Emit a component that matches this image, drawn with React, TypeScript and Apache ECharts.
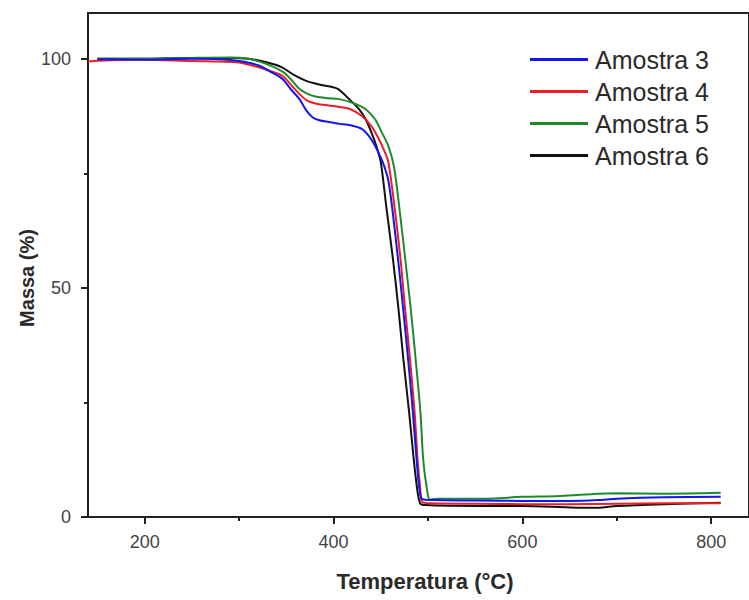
import React, { useEffect, useRef } from "react";
import * as echarts from "echarts";

const seriesNames = ["Amostra 3", "Amostra 4", "Amostra 5", "Amostra 6"];
const seriesColors = ["#1515f0", "#ee1c24", "#1f8a2a", "#111111"];

const amostra3: [number, number][] = [
  [150, 99.9], [200, 99.8], [250, 100], [280, 99.9], [300, 99.5], [320, 98.6], [335, 97], [346, 95.6],
  [355, 93.3], [364, 91.2], [371, 88.8], [378, 87.2], [385, 86.6], [395, 86.2], [406, 85.8], [418, 85.5],
  [430, 84.7], [438, 83], [444, 81], [452, 77.5], [458, 73.5], [463, 66], [469, 55], [474, 45],
  [479, 34.4], [484, 23], [488, 12.5], [491, 6], [494, 3.9], [505, 3.7], [550, 3.6], [600, 3.5],
  [650, 3.5], [680, 3.7], [700, 4.0], [750, 4.3], [810, 4.4],
];

const amostra4: [number, number][] = [
  [140, 99.4], [150, 99.6], [200, 99.8], [250, 99.5], [280, 99.4], [300, 99.2], [320, 98.2], [335, 97.2],
  [346, 96.3], [355, 94.3], [364, 92.3], [372, 90.9], [382, 90.2], [395, 89.8], [406, 89.5], [418, 89],
  [430, 87.5], [440, 85.3], [448, 82.5], [453, 80.3], [458, 77.5], [465, 67], [471, 56.2], [476, 45],
  [481, 34.4], [486, 22.5], [489, 12.5], [492, 6], [494, 3.3], [505, 3.0], [550, 2.9], [600, 2.8],
  [650, 2.8], [700, 2.9], [750, 3.0], [810, 3.0],
];

const amostra5: [number, number][] = [
  [150, 100], [200, 100], [250, 100.2], [290, 100.3], [310, 100], [330, 98.8], [346, 97.2], [355, 95.5],
  [364, 93.4], [372, 92.4], [382, 91.7], [395, 91.4], [406, 91.2], [420, 90.4], [434, 89], [444, 86.8],
  [451, 84], [458, 81], [464, 76.5], [470, 67], [476, 56.2], [482, 45], [487, 34.4], [492, 23],
  [495, 12.5], [499, 6], [502, 3.8], [510, 4.0], [560, 4.0], [600, 4.4], [640, 4.6], [680, 5.1],
  [700, 5.2], [750, 5.1], [810, 5.3],
];

const amostra6: [number, number][] = [
  [150, 100], [200, 100], [250, 100.2], [290, 100.2], [310, 100], [330, 99.2], [345, 98.2], [358, 96.5],
  [371, 95.2], [385, 94.4], [395, 94], [405, 93.4], [415, 91.5], [427, 89], [434, 86.8], [440, 84],
  [445, 81.2], [450, 77.5], [456, 67.5], [463, 56.2], [469, 45], [474, 34.4], [480, 23], [485, 12.5],
  [489, 5.5], [492, 2.9], [497, 2.6], [550, 2.4], [600, 2.4], [650, 2.1], [680, 2.0], [700, 2.4],
  [750, 2.8], [810, 3.1],
];

const seriesData = [amostra3, amostra4, amostra5, amostra6];

const xMajorTicks = [200, 400, 600, 800];
const xMinorTicks = [300, 500, 700];
const yMajorTicks = [0, 50, 100];
const yMinorTicks = [25, 75];

const xTitle = "Temperatura (°C)";
const yTitle = "Massa (%)";

export default function App() {
  const ref = useRef<HTMLDivElement>(null);
  useEffect(() => {
    if (!ref.current) return;
    const chart = echarts.init(ref.current, undefined, { renderer: "svg" });
    const font = "Liberation Sans, Arial, sans-serif";
    const axisCommon = {
      type: "value" as const,
      splitLine: { show: false },
    };
    const option: any = {
      animation: false,
      backgroundColor: "#ffffff",
      grid: {
        left: 88,
        top: 13,
        width: 663.6,
        height: 504,
        show: true,
        borderColor: "#222",
        borderWidth: 2,
        containLabel: false,
      },
      xAxis: [
        {
          ...axisCommon,
          min: 140,
          max: 840,
          position: "bottom",
          axisLine: { show: true, onZero: false, lineStyle: { color: "#222", width: 2 } },
          axisTick: { show: true, inside: false, length: 7, customValues: xMajorTicks, lineStyle: { color: "#222", width: 2 } },
          axisLabel: { customValues: xMajorTicks, margin: 16, color: "#444", fontSize: 18, fontFamily: font },
        },
        {
          ...axisCommon,
          min: 140,
          max: 840,
          position: "bottom",
          axisLine: { show: false, onZero: false },
          axisTick: { show: true, inside: false, length: 4, customValues: xMinorTicks, lineStyle: { color: "#222", width: 2 } },
          axisLabel: { show: false },
        },
      ],
      yAxis: [
        {
          ...axisCommon,
          min: 0,
          max: 110,
          position: "left",
          axisLine: { show: true, onZero: false, lineStyle: { color: "#222", width: 2 } },
          axisTick: { show: true, inside: false, length: 7, customValues: yMajorTicks, lineStyle: { color: "#222", width: 2 } },
          axisLabel: { customValues: yMajorTicks, margin: 17, color: "#444", fontSize: 18, fontFamily: font },
        },
        {
          ...axisCommon,
          min: 0,
          max: 110,
          position: "left",
          axisLine: { show: false, onZero: false },
          axisTick: { show: true, inside: false, length: 4, customValues: yMinorTicks, lineStyle: { color: "#222", width: 2 } },
          axisLabel: { show: false },
        },
      ],
      legend: {
        orient: "vertical",
        left: 525,
        top: 42,
        itemWidth: 58,
        itemHeight: 3,
        itemGap: 7,
        icon: "rect",
        data: seriesNames,
        textStyle: { fontSize: 25, lineHeight: 25, color: "#2a2a2a", fontFamily: font, padding: [0, 0, 0, 2] },
      },
      graphic: [
        {
          type: "text",
          x: 425,
          y: 581,
          style: {
            text: xTitle,
            font: `bold 22px ${font}`,
            fill: "#2a2a2a",
            textAlign: "center",
            textVerticalAlign: "middle",
          },
        },
        {
          type: "text",
          x: 27,
          y: 278,
          rotation: Math.PI / 2,
          style: {
            text: yTitle,
            font: `bold 20px ${font}`,
            fill: "#2a2a2a",
            textAlign: "center",
            textVerticalAlign: "middle",
          },
        },
      ],
      series: seriesNames.map((name, i) => ({
        name,
        type: "line",
        xAxisIndex: 0,
        yAxisIndex: 0,
        data: seriesData[i],
        showSymbol: false,
        smooth: 0.3,
        color: seriesColors[i],
        lineStyle: { width: 2, color: seriesColors[i] },
        z: 10 - i,
      })),
    };
    chart.setOption(option);
    return () => chart.dispose();
  }, []);
  return (
    <div
      ref={ref}
      style={{ position: "fixed", left: 0, top: 0, width: 749, height: 600, background: "#fff" }}
    />
  );
}
